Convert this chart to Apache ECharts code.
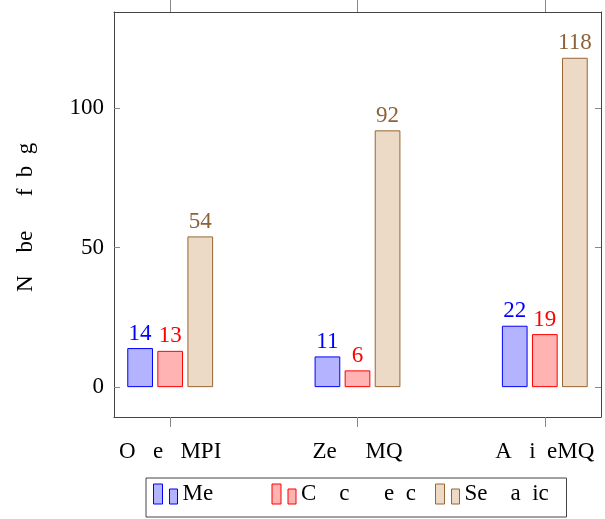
<!DOCTYPE html>
<html>
<head>
<meta charset="utf-8">
<script src="https://cdn.jsdelivr.net/npm/echarts@6/dist/echarts.min.js"></script>
<style>html,body{margin:0;padding:0;background:#fff}#c{width:605px;height:519px}</style>
</head>
<body>
<div id="c"></div>
<script>
// Data
const categories = ['O   e   MPI', 'Ze     MQ', 'A   i  eMQ'];
const seriesNames = ['Me', 'C    c      e  c', 'Se    a  ic'];
const memoryValues = [14, 11, 22];
const concurrencyValues = [13, 6, 19];
const semanticValues = [54, 92, 118];
const yTicks = [0, 50, 100];
const yTitle = 'N    be      f  b  g ';

const FONT = 'Liberation Serif';
const FS = 23;
const colors = [
  { fill: '#b3b3ff', stroke: '#0000ff', label: '#0000ff' },
  { fill: '#ffb3b3', stroke: '#ff0000', label: '#ff0000' },
  { fill: '#ecd9c6', stroke: '#996633', label: '#8c6239' }
];
const allValues = [memoryValues, concurrencyValues, semanticValues];
const catIdx = categories.map((_, i) => i);
const legendWidths = [89, 134, 95];

const chart = echarts.init(document.getElementById('c'), null, { renderer: 'canvas' });
const series = allValues.map((vals, s) => ({
  name: seriesNames[s],
  type: 'bar',
  xAxisIndex: 0,
  yAxisIndex: 0,
  barWidth: 25.7,
  barGap: '17%',
  data: vals.map((v, i) => [catIdx[i], v]),
  itemStyle: { color: colors[s].fill, borderColor: colors[s].stroke, borderWidth: 1 },
  label: {
    show: true, position: 'top', distance: 3,
    color: colors[s].label, fontFamily: FONT, fontSize: FS,
    formatter: p => String(p.value[1])
  },
  emphasis: { disabled: true },
  animation: false
}));

const axisLine = { show: true, onZero: false, lineStyle: { color: '#444', width: 1 } };
chart.setOption({
  animation: false,
  backgroundColor: '#fff',
  grid: { left: 114, top: 12, right: 4, bottom: 102, containLabel: false, outerBoundsMode: 'none' },
  xAxis: [{
    type: 'value', position: 'bottom', min: -0.3, max: 2.3,
    axisLine: axisLine,
    axisTick: { show: true, inside: false, length: 10, customValues: catIdx, lineStyle: { color: '#888' } },
    axisLabel: { show: true, customValues: catIdx, margin: 23, color: '#000', fontFamily: FONT, fontSize: FS,
      formatter: v => categories[Math.round(v)] },
    splitLine: { show: false }
  }, {
    type: 'value', position: 'top', min: -0.3, max: 2.3,
    axisLine: axisLine,
    axisTick: { show: true, inside: false, length: 12, customValues: catIdx, lineStyle: { color: '#888' } },
    axisLabel: { show: false },
    splitLine: { show: false }
  }],
  yAxis: [{
    type: 'value', position: 'left', min: -10.7, max: 134.4,
    axisLine: axisLine,
    axisTick: { show: true, inside: true, length: 6, customValues: yTicks, lineStyle: { color: '#888' } },
    axisLabel: { show: true, customValues: yTicks, margin: 10, color: '#000', fontFamily: FONT, fontSize: FS },
    splitLine: { show: false },
    name: yTitle, nameLocation: 'middle', nameRotate: 90, nameGap: 77,
    nameTextStyle: { color: '#000', fontFamily: FONT, fontSize: FS }
  }, {
    type: 'value', position: 'right', min: -10.7, max: 134.4,
    axisLine: axisLine,
    axisTick: { show: true, inside: true, length: 6, customValues: yTicks, lineStyle: { color: '#888' } },
    axisLabel: { show: false },
    splitLine: { show: false }
  }],
  legend: {
    left: 146, top: 478,
    orient: 'horizontal',
    padding: [4, 7, 11, 7],
    itemGap: 0,
    itemWidth: 24, itemHeight: 20,
    borderColor: '#444', borderWidth: 1,
    icon: 'path://M0,0L9,0L9,20L0,20Z M16,5L24,5L24,20L16,20Z',
    selectedMode: false,
    itemStyle: { borderWidth: 1 },
    textStyle: { color: '#000', fontFamily: FONT, fontSize: FS, lineHeight: 24 },
    data: seriesNames.map((n, i) => ({ name: n, textStyle: { width: legendWidths[i] } }))
  },
  series: series
});
</script>
</body>
</html>
